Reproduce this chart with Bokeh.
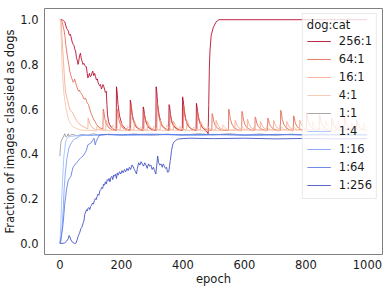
from bokeh.plotting import figure
from bokeh.models import Range1d, FixedTicker, NumeralTickFormatter
from bokeh.embed import file_html
from bokeh.resources import INLINE

labels = ["256:1", "64:1", "16:1", "4:1", "1:1", "1:4", "1:16", "1:64", "1:256"]
colors = ["#b40426", "#e26952", "#f7a889", "#f5c4ac", "#999999",
          "#9ebeff", "#7b9ff9", "#5977e3", "#3b4cc0"]
x_ticks = [0, 200, 400, 600, 800, 1000]
y_ticks = [0.0, 0.2, 0.4, 0.6, 0.8, 1.0]

# (epoch, fraction classified as dogs)
r256 = [(0,1.0),(7,1.0),(12,0.995),(16,0.99),(19,0.975),(22,0.96),(25,0.955),(27,0.95),(30,0.935),(32,0.93),(34,0.935),(36,0.925),
        (40,0.90),(43,0.89),(46,0.885),(48,0.87),(51,0.86),(54,0.83),(57,0.815),(59,0.80),(61,0.81),(64,0.84),(67,0.85),(69,0.83),
        (71,0.82),(73,0.81),(75,0.80),(78,0.805),(81,0.795),(84,0.79),(86,0.79),(89,0.76),(91,0.74),(94,0.75),(96,0.76),(99,0.745),
        (102,0.75),(105,0.765),(107,0.77),(110,0.75),(113,0.76),(116,0.745),(119,0.73),(122,0.735),(124,0.72),(127,0.71),(129,0.705),
        (132,0.71),(135,0.69),(138,0.70),(140,0.71),(143,0.70),(146,0.685),(148,0.675),(151,0.68),(153,0.62),(155,0.575),(158,0.545),
        (162,0.53),(167,0.52),(175,0.51),(183,0.505),
        (184,0.70),(186,0.68),(189,0.62),(194,0.57),(202,0.53),(214,0.512),(228,0.505),
        (229,0.64),(231,0.625),(234,0.585),(239,0.55),(247,0.522),(258,0.51),(270,0.505),
        (271,0.61),(273,0.60),(276,0.565),(281,0.54),(289,0.517),(300,0.508),(312,0.505),
        (313,0.70),(315,0.68),(318,0.62),(323,0.57),(331,0.53),(343,0.512),(354,0.505),
        (355,0.62),(357,0.61),(360,0.57),(365,0.54),(373,0.52),(385,0.508),(398,0.505),
        (399,0.655),(401,0.64),(404,0.595),(409,0.555),(417,0.525),(429,0.51),(443,0.505),
        (444,0.626),(446,0.61),(449,0.575),(454,0.545),(462,0.52),(472,0.505),(481,0.495),
        (482,0.49),(484,0.62),(486,0.78),(488,0.86),(492,0.93),(499,0.966),(508,0.99),(517,1.0),(999,1.0)]

r64 = [(0,1.0),(5,1.0),(9,0.98),(14,0.95),(17,0.92),(19,0.89),(22,0.86),(25,0.83),(29,0.80),(32,0.77),(35,0.755),(38,0.74),
       (41,0.73),(43,0.72),(46,0.725),(48,0.735),(51,0.72),(54,0.705),(58,0.69),(61,0.68),(64,0.685),(66,0.675),(70,0.67),(74,0.66),
       (78,0.646),(81,0.645),(83,0.65),(86,0.64),(88,0.63),(93,0.62),(97,0.60),(102,0.58),(108,0.56),(114,0.545),(120,0.53),
       (127,0.52),(133,0.515),(140,0.51),
       (141,0.60),(143,0.59),(146,0.557),(151,0.534),(159,0.516),(171,0.507),(185,0.507),
       (186,0.60),(188,0.59),(191,0.557),(196,0.534),(204,0.516),(216,0.507),(230,0.507),
       (231,0.62),(233,0.609),(236,0.568),(241,0.54),(249,0.519),(261,0.507),(273,0.507),
       (274,0.58),(276,0.573),(279,0.546),(284,0.528),(292,0.514),(304,0.506),(315,0.507),
       (316,0.63),(318,0.618),(321,0.574),(326,0.543),(334,0.52),(346,0.507),(357,0.507),
       (358,0.58),(360,0.573),(363,0.546),(368,0.528),(376,0.514),(388,0.506),(401,0.507),
       (402,0.62),(404,0.609),(407,0.568),(412,0.54),(420,0.519),(432,0.507),(446,0.507),
       (447,0.59),(449,0.582),(452,0.552),(457,0.53),(465,0.515),(477,0.507),(494,0.505),
       (495,0.58),(497,0.573),(500,0.546),(505,0.528),(513,0.514),(525,0.506),(548,0.505),
       (549,0.60),(551,0.59),(554,0.557),(559,0.534),(567,0.516),(579,0.507),(591,0.505),
       (592,0.59),(594,0.582),(597,0.552),(602,0.53),(610,0.515),(622,0.507),(634,0.505),
       (635,0.565),(637,0.559),(640,0.538),(645,0.523),(653,0.512),(665,0.506),(675,0.505),
       (676,0.56),(678,0.555),(681,0.535),(686,0.522),(694,0.512),(706,0.506),(717,0.505),
       (718,0.595),(720,0.586),(723,0.555),(728,0.532),(736,0.516),(748,0.507),(759,0.505),
       (760,0.57),(762,0.564),(765,0.54),(770,0.525),(778,0.513),(790,0.506),(801,0.505),
       (802,0.585),(804,0.577),(807,0.549),(812,0.529),(820,0.515),(832,0.506),(843,0.505),
       (844,0.575),(846,0.568),(849,0.543),(854,0.526),(862,0.513),(874,0.506),(883,0.505),
       (884,0.56),(886,0.555),(889,0.535),(894,0.522),(902,0.512),(914,0.506),(924,0.505),
       (925,0.565),(927,0.559),(930,0.538),(935,0.523),(943,0.512),(955,0.506),(964,0.505),
       (965,0.55),(967,0.546),(970,0.53),(975,0.518),(983,0.51),(995,0.506),(999,0.505)]

r16 = [(0,1.0),(4,1.0),(7,0.92),(9,0.87),(11,0.83),(14,0.76),(18,0.68),(22,0.655),(25,0.64),(29,0.615),(32,0.60),(38,0.59),
       (43,0.58),(50,0.56),(54,0.55),(62,0.535),(72,0.525),(85,0.515),(91,0.512),
       (92,0.56),(94,0.552),(98,0.533),(104,0.519),(116,0.508),(149,0.507),
       (150,0.55),(152,0.543),(156,0.528),(162,0.516),(174,0.507),(196,0.507),
       (197,0.545),(199,0.539),(203,0.525),(209,0.515),(221,0.507),(241,0.507),
       (242,0.55),(244,0.543),(248,0.528),(254,0.516),(266,0.507),(284,0.507),
       (285,0.545),(287,0.539),(291,0.525),(297,0.515),(309,0.507),(326,0.507),
       (327,0.55),(329,0.543),(333,0.528),(339,0.516),(351,0.507),(369,0.507),
       (370,0.545),(372,0.539),(376,0.525),(382,0.515),(394,0.507),(412,0.507),
       (413,0.55),(415,0.543),(419,0.528),(425,0.516),(437,0.507),(457,0.507),
       (458,0.545),(460,0.539),(464,0.525),(470,0.515),(482,0.507),(507,0.507),
       (508,0.55),(510,0.543),(514,0.528),(520,0.516),(532,0.507),(569,0.507),
       (570,0.55),(572,0.543),(576,0.528),(582,0.516),(594,0.507),(609,0.507),
       (610,0.555),(612,0.548),(616,0.530),(622,0.517),(634,0.508),(651,0.507),
       (652,0.545),(654,0.539),(658,0.525),(664,0.515),(676,0.507),(694,0.507),
       (695,0.55),(697,0.543),(701,0.528),(707,0.516),(719,0.507),(737,0.507),
       (738,0.545),(740,0.539),(744,0.525),(750,0.515),(762,0.507),(779,0.507),
       (780,0.55),(782,0.543),(786,0.528),(792,0.516),(804,0.507),(821,0.507),
       (822,0.545),(824,0.539),(828,0.525),(834,0.515),(846,0.507),(863,0.507),
       (864,0.55),(866,0.543),(870,0.528),(876,0.516),(888,0.507),(904,0.507),
       (905,0.545),(907,0.539),(911,0.525),(917,0.515),(929,0.507),(946,0.507),
       (947,0.54),(949,0.535),(953,0.522),(959,0.513),(971,0.507),(987,0.507),
       (988,0.54),(990,0.535),(994,0.522),(999,0.515)]

r4 = [(0,1.0),(2,1.0),(5,0.89),(7,0.80),(9,0.75),(11,0.71),(13,0.67),(16,0.64),(19,0.61),(22,0.59),(27,0.56),(31,0.545),
      (35,0.535),(40,0.525),(45,0.52),(52,0.515),(60,0.51),(70,0.507),(80,0.505),(119,0.503),
      (120,0.525),(122,0.521),(126,0.515),(132,0.51),(144,0.505),(171,0.503),
      (172,0.53),(174,0.525),(178,0.518),(184,0.511),(196,0.505),(219,0.503),
      (220,0.525),(222,0.521),(226,0.515),(232,0.51),(244,0.505),(261,0.503),
      (262,0.52),(264,0.517),(268,0.512),(274,0.508),(286,0.504),(304,0.503),
      (305,0.525),(307,0.521),(311,0.515),(317,0.51),(329,0.505),(347,0.503),
      (348,0.53),(350,0.525),(354,0.518),(360,0.511),(372,0.505),(389,0.503),
      (390,0.525),(392,0.521),(396,0.515),(402,0.51),(414,0.505),(434,0.503),
      (435,0.52),(437,0.517),(441,0.512),(447,0.508),(459,0.504),(479,0.503),
      (480,0.525),(482,0.521),(486,0.515),(492,0.51),(504,0.505),(529,0.503),
      (530,0.53),(532,0.525),(536,0.518),(542,0.511),(554,0.505),(589,0.503),
      (590,0.525),(592,0.521),(596,0.515),(602,0.51),(614,0.505),(629,0.503),
      (630,0.52),(632,0.517),(636,0.512),(642,0.508),(654,0.504),(671,0.503),
      (672,0.525),(674,0.521),(678,0.515),(684,0.51),(696,0.505),(714,0.503),
      (715,0.53),(717,0.525),(721,0.518),(727,0.511),(739,0.505),(757,0.503),
      (758,0.525),(760,0.521),(764,0.515),(770,0.51),(782,0.505),(799,0.503),
      (800,0.52),(802,0.517),(806,0.512),(812,0.508),(824,0.504),(841,0.503),
      (842,0.525),(844,0.521),(848,0.515),(854,0.51),(866,0.505),(884,0.503),
      (885,0.53),(887,0.525),(891,0.518),(897,0.511),(909,0.505),(924,0.503),
      (925,0.525),(927,0.521),(931,0.515),(937,0.51),(949,0.505),(967,0.503),
      (968,0.525),(970,0.521),(974,0.515),(980,0.51),(992,0.505),(999,0.503)]

r1 = [(0,0.39),(2,0.43),(3,0.45),(7,0.465),(11,0.475),(16,0.49),(20,0.475),(24,0.48),(27,0.49),(30,0.478),(35,0.485),
      (43,0.487),(55,0.48),(70,0.487),(90,0.483),(110,0.49),(130,0.482),(160,0.488),(200,0.484),(240,0.489),(300,0.483),
      (350,0.488),(400,0.484),(450,0.49),(500,0.485),(550,0.49),(600,0.484),(650,0.489),(700,0.483),(750,0.488),
      (800,0.485),(850,0.49),(900,0.484),(950,0.488),(999,0.485)]

r1_4 = [(0,0.0),(3,0.08),(5,0.17),(7,0.23),(9,0.29),(11,0.34),(13,0.39),(16,0.42),(18,0.45),(22,0.465),(27,0.475),
        (35,0.478),(48,0.48),(70,0.484),(100,0.482),(150,0.486),(200,0.483),(300,0.486),(400,0.484),(500,0.487),
        (600,0.484),(700,0.487),(800,0.485),(900,0.487),(999,0.485)]

r1_16 = [(0,0.0),(4,0.01),(7,0.065),(11,0.155),(14,0.245),(18,0.32),(23,0.38),(29,0.425),(34,0.44),(38,0.45),(43,0.46),
         (48,0.467),(55,0.47),(65,0.48),(80,0.484),(100,0.483),(150,0.487),(250,0.484),(350,0.487),(450,0.483),
         (550,0.486),(650,0.483),(750,0.486),(850,0.484),(999,0.484)]

r1_64 = [(0,0.0),(5,0.035),(8,0.06),(11,0.095),(16,0.18),(19,0.21),(22,0.245),(27,0.28),(31,0.29),(36,0.30),(40,0.325),
         (43,0.34),(48,0.35),(54,0.36),(60,0.37),(65,0.378),(70,0.385),(75,0.39),(80,0.40),(86,0.415),(91,0.44),(96,0.445),
         (102,0.45),(106,0.46),(111,0.47),(115,0.44),(118,0.455),(122,0.467),(129,0.485),(140,0.487),(200,0.485),
         (300,0.488),(400,0.485),(500,0.487),(600,0.484),(700,0.487),(800,0.485),(900,0.487),(999,0.486)]

r1_256 = [(0,0.0),(10,0.0),(16,0.002),(22,0.01),(27,0.02),(30,0.035),(32,0.03),(36,0.015),(41,0.005),(47,0.0),(52,0.0),
          (56,0.015),(59,0.03),(62,0.04),(65,0.05),(68,0.065),(71,0.07),(75,0.088),(78,0.1),(81,0.13),(84,0.14),(87,0.15),
          (89,0.145),(91,0.155),(94,0.16),(97,0.15),(100,0.165),(103,0.17),(106,0.18),(109,0.175),(112,0.19),(115,0.2),
          (118,0.195),(121,0.21),(124,0.22),(127,0.215),(130,0.235),(133,0.24),(136,0.25),(139,0.245),(142,0.265),
          (145,0.26),(148,0.275),(151,0.265),(154,0.285),(157,0.28),(160,0.29),(163,0.275),(166,0.295),(169,0.3),
          (172,0.285),(175,0.305),(178,0.3),(181,0.31),(184,0.29),(187,0.315),(190,0.305),(194,0.32),(198,0.31),
          (202,0.325),(206,0.315),(210,0.33),(214,0.32),(218,0.335),(222,0.325),(226,0.34),(230,0.33),(234,0.35),
          (238,0.345),(242,0.33),(246,0.32),(249,0.31),(252,0.335),(256,0.36),(260,0.35),(264,0.365),(268,0.355),
          (272,0.345),(276,0.36),(280,0.35),(284,0.335),(288,0.355),(292,0.345),(296,0.35),(300,0.33),(304,0.34),
          (308,0.325),(312,0.31),(315,0.35),(318,0.39),(321,0.36),(325,0.35),(329,0.355),(333,0.34),(336,0.355),
          (339,0.348),(343,0.335),(347,0.34),(350,0.318),(354,0.32),(357,0.35),(359,0.37),(361,0.39),(363,0.415),
          (366,0.435),(368,0.445),(372,0.455),(377,0.46),(382,0.465),(388,0.467),(420,0.47),(500,0.468),(600,0.47),
          (700,0.467),(800,0.469),(900,0.467),(999,0.468)]

series = [r256, r64, r16, r4, r1, r1_4, r1_16, r1_64, r1_256]

FONT = "DejaVu Sans"
FS = "11.5px"

p = figure(width=391, height=292, output_backend="svg", toolbar_location=None,
           x_range=Range1d(-50, 1049), y_range=Range1d(-0.05, 1.05),
           min_border_left=44, min_border_right=9, min_border_top=8, min_border_bottom=38)
p.background_fill_color = "white"
p.border_fill_color = "white"
p.outline_line_color = "#808080"
p.outline_line_width = 1
p.grid.visible = False

for pts, lab, col in zip(series, labels, colors):
    xs = [a for a, b in pts]
    ys = [b for a, b in pts]
    p.line(xs, ys, line_color=col, line_width=1, line_alpha=0.85, legend_label=lab)

p.xaxis.ticker = FixedTicker(ticks=x_ticks)
p.yaxis.ticker = FixedTicker(ticks=y_ticks)
p.yaxis.formatter = NumeralTickFormatter(format="0.0")
for ax in (p.xaxis[0], p.yaxis[0]):
    ax.axis_line_color = None
    ax.major_tick_line_color = None
    ax.minor_tick_line_color = None
    ax.major_tick_out = 0
    ax.major_tick_in = 0
    ax.major_label_text_font = FONT
    ax.major_label_text_font_size = FS
    ax.major_label_text_color = "#1a1a1a"
    ax.axis_label_text_font = FONT
    ax.axis_label_text_font_size = FS
    ax.axis_label_text_font_style = "normal"
    ax.axis_label_text_color = "#1a1a1a"
p.xaxis.major_label_standoff = 5
p.xaxis.axis_label_standoff = 0
p.yaxis.major_label_standoff = 6
p.yaxis.axis_label_standoff = 0
p.xaxis.axis_label = "epoch"
p.yaxis.axis_label = "Fraction of images classied as dogs"

lg = p.legend[0]
lg.title = "dog:cat"
lg.title_text_font = FONT
lg.title_text_font_size = FS
lg.title_text_font_style = "normal"
lg.title_text_color = "#1a1a1a"
lg.title_text_align = "center"
lg.title_standoff = 0
lg.location = "top_right"
lg.margin = 5
lg.padding = 4
lg.spacing = 0
lg.glyph_width = 24
lg.glyph_height = 18
lg.label_height = 18
lg.label_standoff = 8
lg.label_text_font = FONT
lg.label_text_font_size = FS
lg.label_text_color = "#1a1a1a"
lg.background_fill_color = "white"
lg.background_fill_alpha = 0.8
lg.border_line_color = "#d5d5d5"
lg.border_line_width = 1

open("out.html", "w").write(file_html(p, INLINE))
